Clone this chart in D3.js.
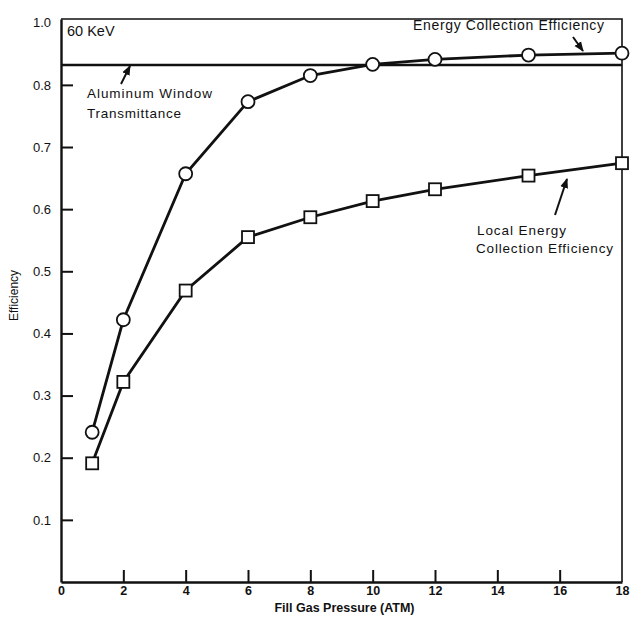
<!DOCTYPE html>
<html>
<head>
<meta charset="utf-8">
<script src="https://cdn.jsdelivr.net/npm/d3@7"></script>
<style>
  html, body { margin: 0; padding: 0; background: #fff; }
  svg { display: block; font-family: "Liberation Sans", Arial, Helvetica, sans-serif; }
</style>
</head>
<body>
<svg id="chart" width="633" height="619"></svg>
<script>
// ---- data ----
const pressures = [1, 2, 4, 6, 8, 10, 12, 15, 18];
const energyCollection = [0.241, 0.422, 0.657, 0.773, 0.815, 0.833, 0.841, 0.848, 0.851];
const localEnergyCollection = [0.191, 0.322, 0.469, 0.555, 0.587, 0.613, 0.632, 0.654, 0.674];
const aluminumTransmittance = 0.832;
const aluminumRange = [0, 18];
const xTicks = [0, 2, 4, 6, 8, 10, 12, 14, 16, 18];
const yTicks = [0.1, 0.2, 0.3, 0.4, 0.5, 0.6, 0.7, 0.8, 0.9];
const yTickLabels = ["0.1", "0.2", "0.3", "0.4", "0.5", "0.6", "0.7", "0.8", "1.0"];

// ---- layout ----
const box = { left: 61, top: 19, right: 622, bottom: 582 };
const svg = d3.select("#chart");
const x = d3.scaleLinear().domain([0, 18]).range([box.left, box.right]);
const y = d3.scaleLinear().domain([0, 0.906]).range([box.bottom, box.top]);

// frame (top and right)
svg.append("path")
  .attr("d", `M${box.left},${box.top}H${box.right}V${box.bottom}`)
  .attr("fill", "none").attr("stroke", "#111").attr("stroke-width", 1.6);

// x axis (ticks pointing inward/up)
const xAxis = d3.axisBottom(x).tickValues(xTicks).tickSize(0).tickPadding(4)
  .tickFormat(d => d3.format("d")(d));
const gx = svg.append("g").attr("transform", `translate(0,${box.bottom})`).call(xAxis);
gx.select(".domain").attr("stroke", "#111").attr("stroke-width", 2.4);
gx.selectAll(".tick text").attr("font-size", 12.5).attr("fill", "#111").attr("font-weight", "bold");
gx.selectAll(".tick").filter(d => d > 0 && d < 18).append("line")
  .attr("y1", 0).attr("y2", -12).attr("stroke", "#111").attr("stroke-width", 2);

// y axis (ticks pointing inward/right)
const yAxis = d3.axisLeft(y).tickValues(yTicks).tickSize(0).tickPadding(10)
  .tickFormat((d, i) => yTickLabels[i]);
const gy = svg.append("g").attr("transform", `translate(${box.left},0)`).call(yAxis);
gy.select(".domain").attr("stroke", "#111").attr("stroke-width", 2.4);
gy.selectAll(".tick text").attr("font-size", 13).attr("fill", "#111");
gy.selectAll(".tick").filter(d => d < 0.85).append("line")
  .attr("x1", 0).attr("x2", 12).attr("stroke", "#111").attr("stroke-width", 2);

// axis titles
svg.append("text").attr("x", (box.left + box.right) / 2 + 3).attr("y", 612)
  .attr("text-anchor", "middle").attr("font-size", 12.5).attr("font-weight", "bold")
  .attr("fill", "#111").text("Fill Gas Pressure (ATM)");
svg.append("text").attr("transform", `translate(18,${(box.top + box.bottom) / 2 - 5}) rotate(-90)`)
  .attr("text-anchor", "middle").attr("font-size", 12).attr("fill", "#111").text("Efficiency");

// aluminum window transmittance line
svg.append("line")
  .attr("x1", x(aluminumRange[0])).attr("x2", x(aluminumRange[1]))
  .attr("y1", y(aluminumTransmittance)).attr("y2", y(aluminumTransmittance))
  .attr("stroke", "#111").attr("stroke-width", 2.4);

const line = d3.line().x(d => x(d[0])).y(d => y(d[1]));
const ecData = pressures.map((p, i) => [p, energyCollection[i]]);
const lecData = pressures.map((p, i) => [p, localEnergyCollection[i]]);

svg.append("path").datum(ecData).attr("d", line)
  .attr("fill", "none").attr("stroke", "#111").attr("stroke-width", 2.8);
svg.append("path").datum(lecData).attr("d", line)
  .attr("fill", "none").attr("stroke", "#111").attr("stroke-width", 2.8);

svg.selectAll("circle.ec").data(ecData).join("circle")
  .attr("class", "ec").attr("cx", d => x(d[0])).attr("cy", d => y(d[1])).attr("r", 6.5)
  .attr("fill", "#fff").attr("stroke", "#111").attr("stroke-width", 1.8);
svg.selectAll("rect.lec").data(lecData).join("rect")
  .attr("class", "lec").attr("x", d => x(d[0]) - 6).attr("y", d => y(d[1]) - 6)
  .attr("width", 12).attr("height", 12)
  .attr("fill", "#fff").attr("stroke", "#111").attr("stroke-width", 1.8);

// annotations
function txt(s, px, py, size, len) {
  const t = svg.append("text").attr("x", px).attr("y", py).attr("font-size", size)
    .attr("fill", "#111").text(s);
  if (len) t.attr("textLength", len).attr("lengthAdjust", "spacing");
  return t;
}
txt("60 KeV", 67, 36, 14.5);
txt("Energy Collection Efficiency", 413, 30, 14, 191);
txt("Aluminum Window", 87, 98, 13.5, 125);
txt("Transmittance", 87, 118, 13.5, 94);
txt("Local Energy", 477, 235, 13.5, 89);
txt("Collection Efficiency", 476, 253, 13.5, 137);

svg.append("defs").append("marker").attr("id", "ah").attr("viewBox", "0 0 10 10")
  .attr("refX", 9).attr("refY", 5).attr("markerWidth", 5).attr("markerHeight", 5)
  .attr("orient", "auto").append("path").attr("d", "M0,1L10,5L0,9Z").attr("fill", "#111");
function arrow(x1, y1, x2, y2) {
  svg.append("line").attr("x1", x1).attr("y1", y1).attr("x2", x2).attr("y2", y2)
    .attr("stroke", "#111").attr("stroke-width", 2).attr("marker-end", "url(#ah)");
}
arrow(573, 37, 583, 51);
arrow(121, 84, 130, 66);
arrow(555, 215, 567, 179);
</script>
</body>
</html>
